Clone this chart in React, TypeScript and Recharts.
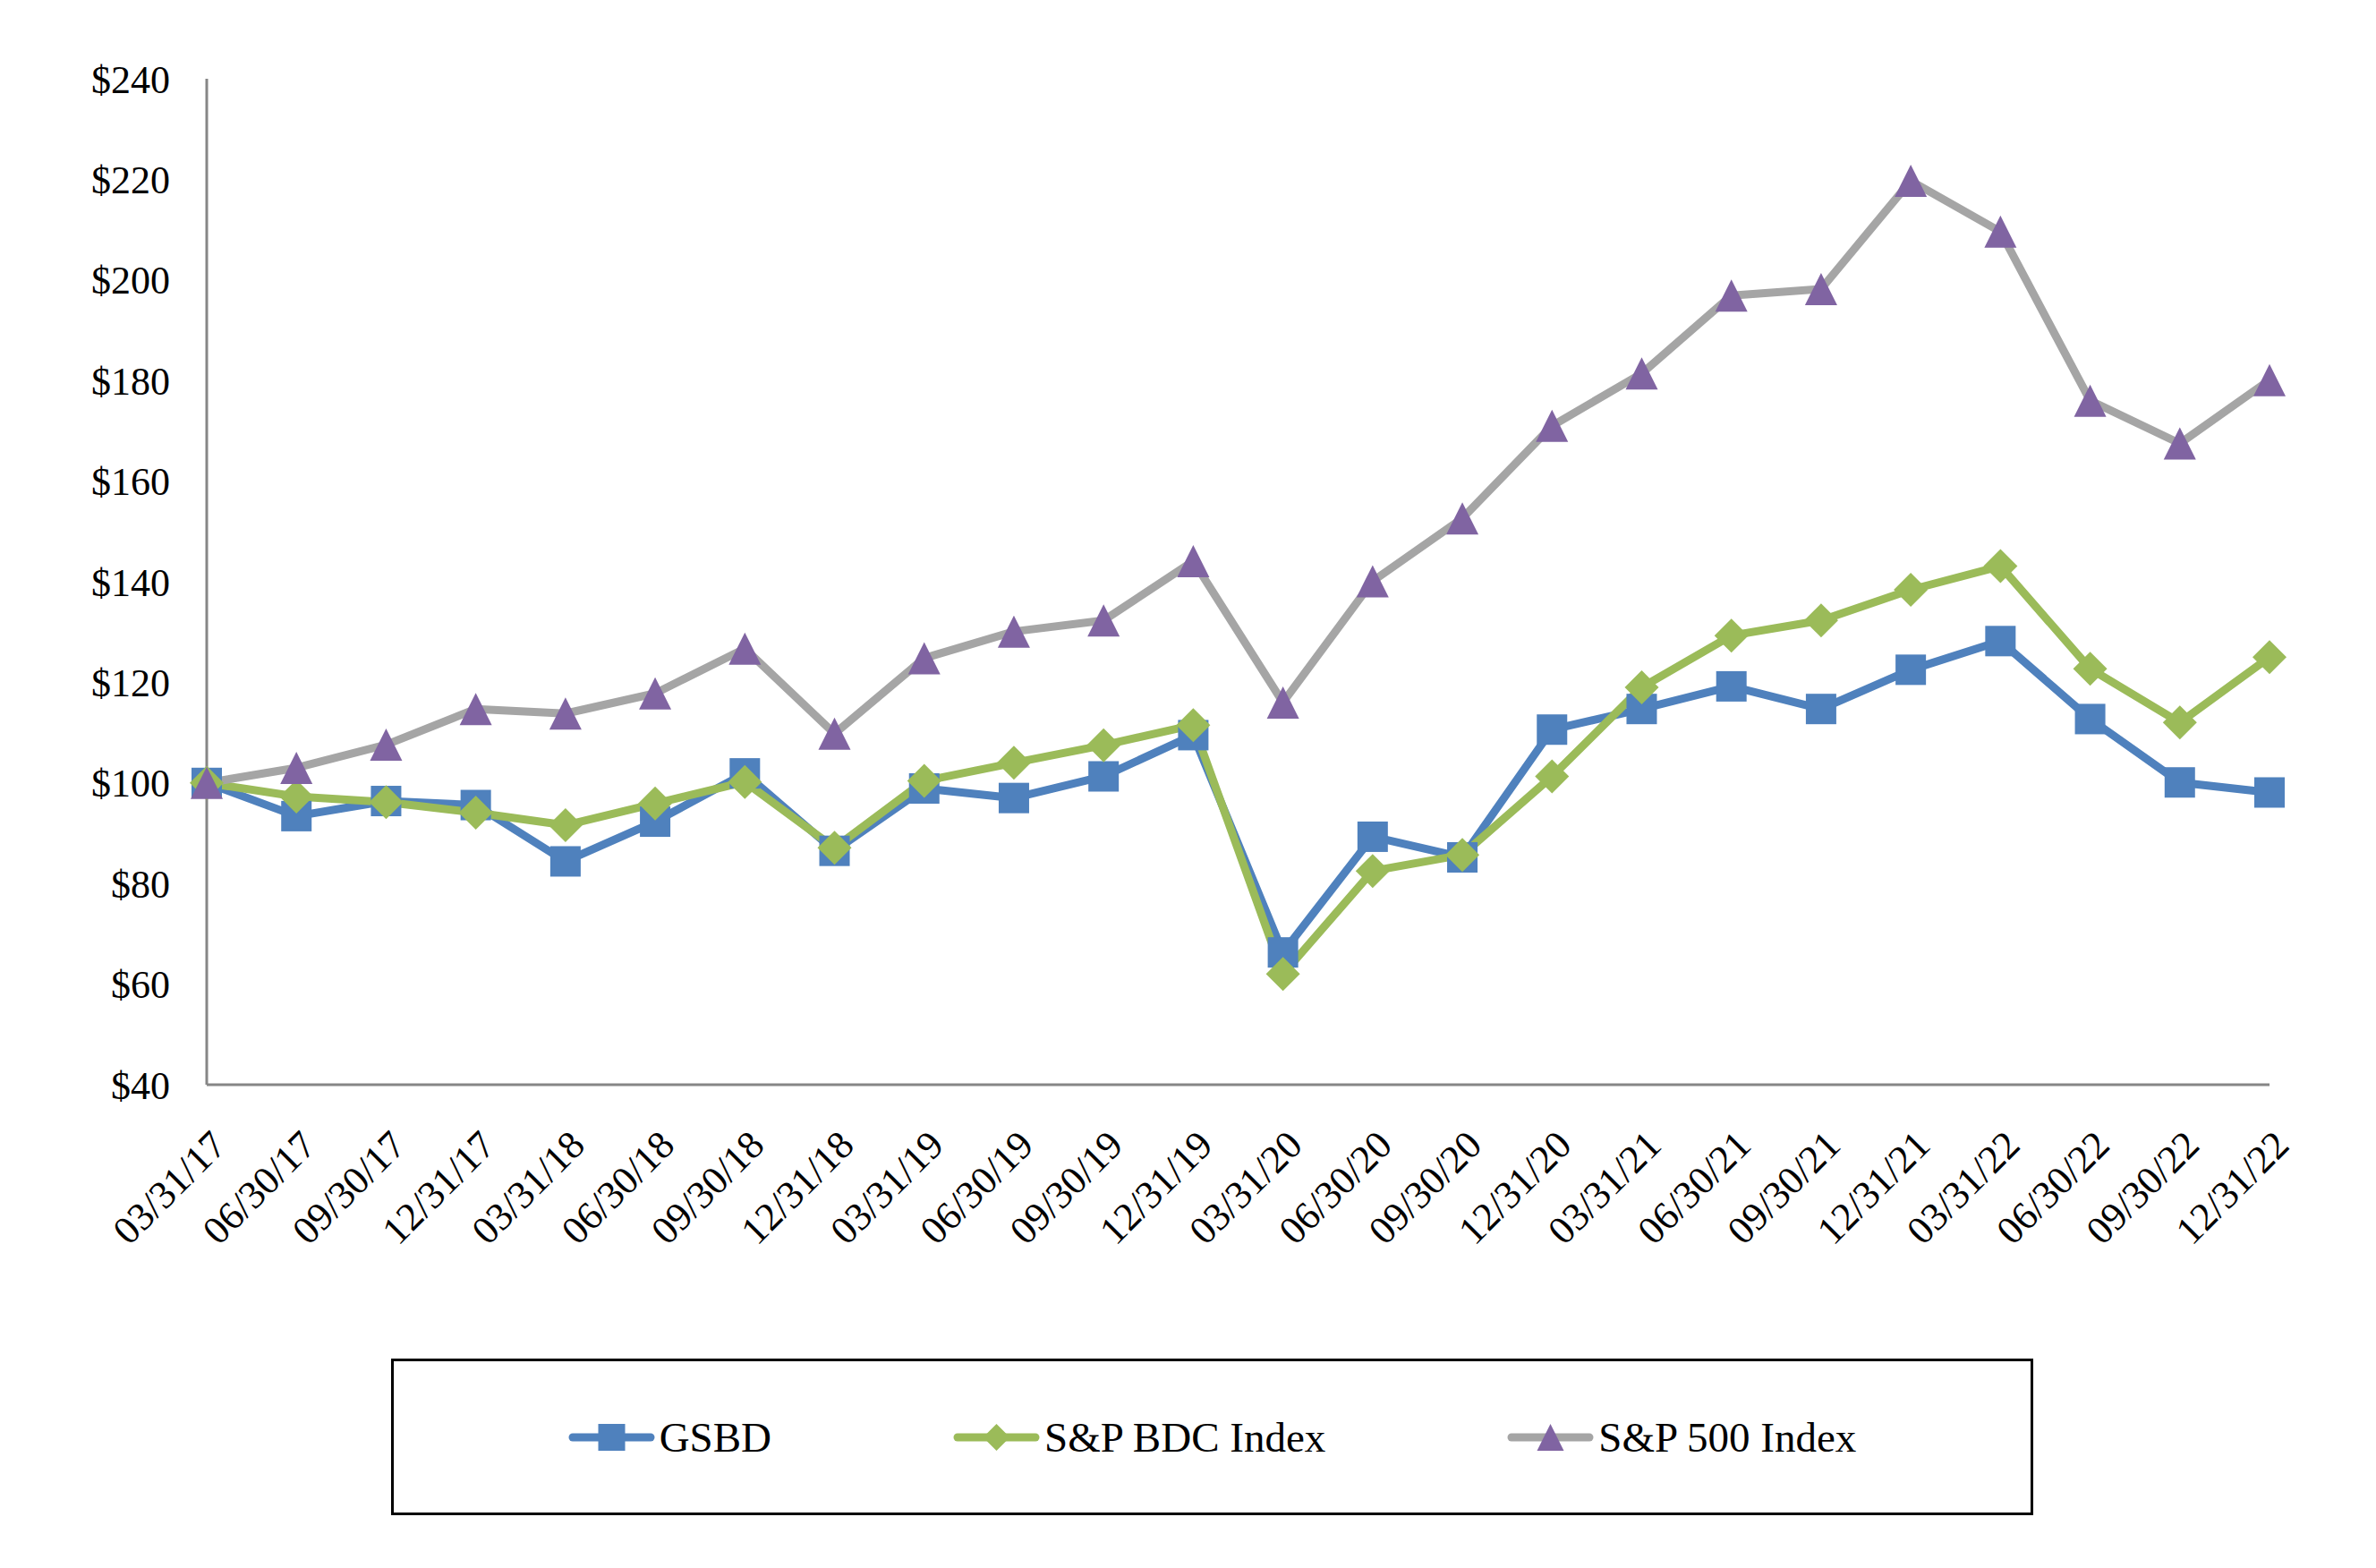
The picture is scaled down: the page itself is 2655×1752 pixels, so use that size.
import React from "react";
import { LineChart, Line, XAxis, YAxis, Legend } from "recharts";

const dates = [
  "03/31/17", "06/30/17", "09/30/17", "12/31/17",
  "03/31/18", "06/30/18", "09/30/18", "12/31/18",
  "03/31/19", "06/30/19", "09/30/19", "12/31/19",
  "03/31/20", "06/30/20", "09/30/20", "12/31/20",
  "03/31/21", "06/30/21", "09/30/21", "12/31/21",
  "03/31/22", "06/30/22", "09/30/22", "12/31/22",
];

const gsbd = [
  100, 93.4, 96.4, 95.6, 84.4, 92.3, 101.9, 86.5, 98.9, 97.0, 101.3, 109.5,
  66.3, 89.3, 85.2, 110.6, 114.7, 119.2, 114.7, 122.5, 128.2, 112.7, 100.1, 98.1,
];

const bdcIndex = [
  100, 97.3, 96.2, 94.1, 91.6, 95.9, 100.2, 87.1, 100.4, 104.0, 107.5, 111.5,
  62.0, 82.5, 85.7, 101.3, 119.0, 129.3, 132.3, 138.4, 143.1, 122.7, 112.0, 125.0,
];

const sp500Index = [
  100, 103.0, 107.6, 114.7, 113.8, 117.8, 126.7, 109.8, 124.8, 130.1, 132.3, 144.1,
  116.0, 140.1, 152.6, 171.0, 181.4, 196.9, 198.2, 219.7, 209.6, 176.0, 167.5, 180.1,
];

const yTicks = [40, 60, 80, 100, 120, 140, 160, 180, 200, 220, 240];

const seriesOrder = ["gsbd", "bdc", "sp500"];

const data = dates.map((date, i) => ({
  date,
  gsbd: gsbd[i],
  bdc: bdcIndex[i],
  sp500: sp500Index[i],
}));

const FONT = '"Liberation Serif", "Times New Roman", serif';
const BLUE = "#4F81BD";
const GREEN = "#9BBB59";
const GRAY = "#A5A5A5";
const PURPLE = "#8064A2";
const AXIS = "#868686";

type Shape = "square" | "diamond" | "triangle";

function Marker({ cx, cy, shape, color, size }: { cx: number; cy: number; shape: Shape; color: string; size: number }) {
  if (cx == null || cy == null) return null;
  const h = size / 2;
  if (shape === "square") {
    return <rect x={cx - h} y={cy - h} width={size} height={size} fill={color} />;
  }
  if (shape === "diamond") {
    return (
      <polygon
        points={`${cx},${cy - h} ${cx + h},${cy} ${cx},${cy + h} ${cx - h},${cy}`}
        fill={color}
      />
    );
  }
  return (
    <polygon
      points={`${cx},${cy - h} ${cx + h},${cy + h} ${cx - h},${cy + h}`}
      fill={color}
    />
  );
}

const markerFor: Record<string, { shape: Shape; color: string }> = {
  gsbd: { shape: "square", color: BLUE },
  bdc: { shape: "diamond", color: GREEN },
  sp500: { shape: "triangle", color: PURPLE },
};

const sizeFor: Record<Shape, number> = { square: 34, diamond: 38, triangle: 36 };

function XTick({ x, y, payload }: any) {
  return (
    <g transform={`translate(${x + 24},${y + 68})`}>
      <text
        x={0}
        y={0}
        textAnchor="end"
        transform="rotate(-45)"
        fontFamily={FONT}
        fontSize={44}
        fill="#000"
      >
        {payload.value}
      </text>
    </g>
  );
}

function LegendBox({ payload }: any) {
  const items = [...(payload || [])].sort(
    (a: any, b: any) => seriesOrder.indexOf(a.dataKey) - seriesOrder.indexOf(b.dataKey)
  );
  return (
    <div
      style={{
        boxSizing: "border-box",
        width: 1835,
        height: 175,
        border: "3px solid #000",
        display: "flex",
        alignItems: "center",
        justifyContent: "center",
        gap: 203,
        fontFamily: FONT,
        fontSize: 47,
        color: "#000",
      }}
    >
      {items.map((entry: any) => {
        const m = markerFor[entry.dataKey];
        return (
          <div key={entry.dataKey} style={{ display: "flex", alignItems: "center" }}>
            <svg width={97} height={40} style={{ marginRight: 5 }}>
              <line x1={5} y1={20} x2={92} y2={20} stroke={entry.color} strokeWidth={9} strokeLinecap="round" />
              <Marker cx={48.5} cy={20} shape={m.shape} color={m.color} size={30} />
            </svg>
            <span>{entry.value}</span>
          </div>
        );
      })}
    </div>
  );
}

export default function App() {
  return (
    <div style={{ width: 2655, height: 1752, background: "#fff" }}>
      <style>{`body { margin: 0; }`}</style>
      <LineChart
        width={2655}
        height={1752}
        data={data}
        margin={{ top: 88, right: 119, bottom: 340, left: 0 }}
      >
        <XAxis
          dataKey="date"
          height={200}
          stroke={AXIS}
          strokeWidth={3}
          tickLine={false}
          tickSize={0}
          interval={0}
          tick={<XTick />}
        />
        <YAxis
          width={231}
          domain={[40, 240]}
          ticks={yTicks}
          stroke={AXIS}
          strokeWidth={3}
          tickLine={false}
          tickSize={0}
          tickMargin={41}
          tickFormatter={(v: number) => `$${v}`}
          tick={{ fill: "#000", fontSize: 44, fontFamily: FONT }}
        />
        <Legend
          layout="horizontal"
          verticalAlign="middle"
          align="center"
          content={<LegendBox />}
          wrapperStyle={{ left: 437, top: 1518, width: 1835, height: 175 }}
        />
        <Line
          dataKey="gsbd"
          name="GSBD"
          stroke={BLUE}
          strokeWidth={9}
          strokeLinejoin="round"
          isAnimationActive={false}
          dot={(p: any) => <Marker key={`g${p.index}`} cx={p.cx} cy={p.cy} shape="square" color={BLUE} size={sizeFor.square} />}
          activeDot={false}
        />
        <Line
          dataKey="bdc"
          name="S&P BDC Index"
          stroke={GREEN}
          strokeWidth={9}
          strokeLinejoin="round"
          isAnimationActive={false}
          dot={(p: any) => <Marker key={`b${p.index}`} cx={p.cx} cy={p.cy} shape="diamond" color={GREEN} size={sizeFor.diamond} />}
          activeDot={false}
        />
        <Line
          dataKey="sp500"
          name="S&P 500 Index"
          stroke={GRAY}
          strokeWidth={9}
          strokeLinejoin="round"
          isAnimationActive={false}
          dot={(p: any) => <Marker key={`s${p.index}`} cx={p.cx} cy={p.cy} shape="triangle" color={PURPLE} size={sizeFor.triangle} />}
          activeDot={false}
        />
      </LineChart>
    </div>
  );
}
